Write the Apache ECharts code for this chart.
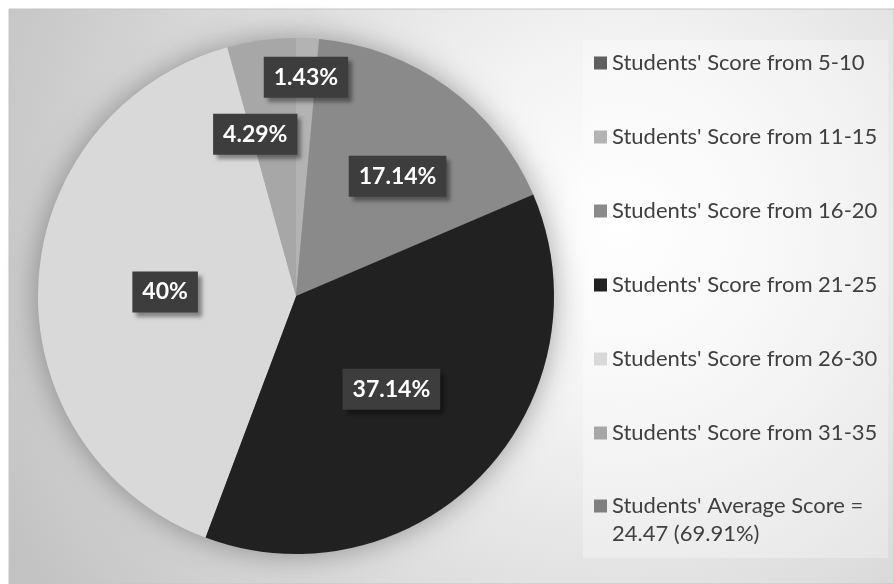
<!DOCTYPE html>
<html>
<head>
<meta charset="utf-8">
<script src="https://cdn.jsdelivr.net/npm/echarts@6.0.0/dist/echarts.min.js"></script>
<style>
  html, body { margin: 0; padding: 0; background: #fff; }
  #main { width: 894px; height: 584px; }
</style>
</head>
<body>
<div id="main"></div>
<script>
// categories and student counts (out of 70)
var categories = [
  "Students' Score from 5-10",
  "Students' Score from 11-15",
  "Students' Score from 16-20",
  "Students' Score from 21-25",
  "Students' Score from 26-30",
  "Students' Score from 31-35",
  "Students' Average Score = 24.47 (69.91%)"
];
var counts = [0, 1, 12, 26, 28, 3, 0];

var sliceColors = ['#5f5f5f', '#b3b3b3', '#8a8a8a', '#212121', '#d9d9d9', '#a7a7a7', '#7f7f7f'];
// nudges for the data labels (like excel's best fit)
var labelOffsets = [[0, 0], [4, -87], [24, -13], [0, 2], [1, 2], [-23, -31], [0, 0]];

var FONT = 'Lato';

var myChart = echarts.init(document.getElementById('main'));

var pieData = categories.map(function (name, i) {
  return {
    name: name,
    value: counts[i],
    itemStyle: { color: sliceColors[i] },
    label: { show: counts[i] > 0, offset: labelOffsets[i] }
  };
});

var legendText = {
  fontFamily: FONT,
  fontSize: 22,
  color: '#404040',
  lineHeight: 28
};

var option = {
  animation: false,
  graphic: {
    elements: [
      {
        type: 'rect',
        z: -2,
        shape: { x: 9, y: 9, width: 885, height: 575 },
        style: {
          fill: new echarts.graphic.RadialGradient(0.69, 0.38, 1.2, [
            { offset: 0, color: '#ffffff' },
            { offset: 0.25, color: '#f4f4f4' },
            { offset: 1, color: '#c2c2c2' }
          ]),
          stroke: '#c4c4c4',
          lineWidth: 1
        }
      },
      {
        type: 'rect',
        z: -1,
        shape: { x: 583, y: 40, width: 305, height: 518 },
        style: { fill: 'rgba(255,255,255,0.3)' }
      }
    ]
  },
  legend: [
    {
      orient: 'vertical',
      left: 594,
      top: 49,
      padding: 0,
      itemWidth: 13,
      itemHeight: 13,
      itemGap: 46,
      icon: 'rect',
      textStyle: legendText,
      data: categories.slice(0, 6)
    },
    {
      orient: 'vertical',
      left: 594,
      top: 464,
      padding: 0,
      itemWidth: 13,
      itemHeight: 13,
      icon: 'rect',
      textStyle: legendText,
      // leading blank line keeps the icon level with the first line
      formatter: function (n) { return '\n' + n.replace('= ', '=\n'); },
      data: categories.slice(6)
    }
  ],
  series: [
    {
      type: 'pie',
      z: 3,
      center: [296, 296],
      radius: 258,
      avoidLabelOverlap: false,
      itemStyle: { borderWidth: 0 },
      labelLine: { show: false },
      label: {
        position: 'inside',
        formatter: '{d}%',
        color: '#ffffff',
        fontFamily: FONT,
        fontWeight: 'bold',
        fontSize: 23,
        lineHeight: 26,
        backgroundColor: '#3d3d3d',
        padding: [8, 10, 7, 10],
        shadowColor: 'rgba(0,0,0,0.4)',
        shadowBlur: 4,
        shadowOffsetX: 4,
        shadowOffsetY: 4
      },
      emphasis: { disabled: true },
      data: pieData
    },
    {
      // soft halo behind the pie
      type: 'pie',
      silent: true,
      z: 1,
      center: [296, 296],
      radius: 258,
      label: { show: false },
      labelLine: { show: false },
      itemStyle: { shadowBlur: 30, shadowColor: 'rgba(0,0,0,0.35)' },
      data: categories.map(function (name, i) {
        return { name: name, value: counts[i], itemStyle: { color: '#bbbbbb' } };
      })
    }
  ]
};

myChart.setOption(option);
</script>
</body>
</html>
